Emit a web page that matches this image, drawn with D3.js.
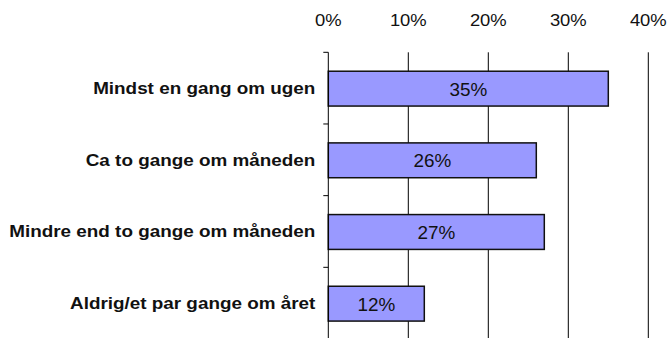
<!DOCTYPE html>
<html>
<head>
<meta charset="utf-8">
<script src="https://cdn.jsdelivr.net/npm/d3@7"></script>
<style>
  html, body { margin: 0; padding: 0; background: #fff; }
  svg { display: block; font-family: "Liberation Sans", Arial, Helvetica, sans-serif; }
</style>
</head>
<body>
<svg id="chart" width="669" height="338"></svg>
<script>
// Survey answers: how often respondents do it
const categories = [
  "Mindst en gang om ugen",
  "Ca to gange om måneden",
  "Mindre end to gange om måneden",
  "Aldrig/et par gange om året"
];
const values = [35, 26, 27, 12];
const tickValues = [0, 10, 20, 30, 40];
const tickLabels = ["0%", "10%", "20%", "30%", "40%"];

const svg = d3.select("#chart");
const plotLeft = 328.3, plotRight = 648.3, plotTop = 52.3, plotBottom = 339;
const tickStretch = 1.15;  // labels are set slightly wide
const labelStretch = 1.18;

const x = d3.scaleLinear().domain([0, 40]).range([plotLeft, plotRight]);
const y = d3.scaleBand().domain(categories).range([plotTop, plotBottom])
  .paddingInner(0.5).paddingOuter(0.25);

// vertical gridlines
svg.append("g").selectAll("line").data(tickValues.slice(1)).join("line")
  .attr("x1", d => x(d)).attr("x2", d => x(d))
  .attr("y1", plotTop).attr("y2", 338)
  .attr("stroke", "#000").attr("stroke-width", 1);

// top axis labels
svg.append("g").selectAll("text").data(tickValues).join("text")
  .attr("transform", d => `translate(${x(d)},26) scale(${tickStretch},1)`)
  .attr("text-anchor", "middle")
  .attr("font-size", 16)
  .attr("fill", "#111")
  .text((d, i) => tickLabels[i]);

// bars
svg.append("g").selectAll("rect").data(values).join("rect")
  .attr("x", x(0))
  .attr("y", (d, i) => y(categories[i]) + 1)
  .attr("width", d => x(d) - x(0))
  .attr("height", y.bandwidth() - 1)
  .attr("fill", "#9999ff")
  .attr("stroke", "#111")
  .attr("stroke-width", 1.5);

// value labels inside bars
svg.append("g").selectAll("text").data(values).join("text")
  .attr("transform", (d, i) =>
    `translate(${(x(0) + x(d)) / 2},${y(categories[i]) + 1 + y.bandwidth() / 2}) scale(1.05,1)`)
  .attr("dy", "0.36em")
  .attr("text-anchor", "middle")
  .attr("font-size", 18)
  .attr("fill", "#111")
  .text(d => d + "%");

// left axis line and category separators
const yAxis = svg.append("g");
yAxis.append("line")
  .attr("x1", x(0)).attr("x2", x(0))
  .attr("y1", plotTop).attr("y2", 338)
  .attr("stroke", "#000").attr("stroke-width", 1);
const bounds = categories.map(c => y(c) - y.step() * y.paddingInner() / 2);
yAxis.selectAll("line.sep").data(bounds).join("line")
  .attr("class", "sep")
  .attr("x1", x(0) - 5).attr("x2", x(0))
  .attr("y1", d => d).attr("y2", d => d)
  .attr("stroke", "#000").attr("stroke-width", 1);

// category labels
yAxis.selectAll("text").data(categories).join("text")
  .attr("transform", d => `translate(${x(0) - 13},${y(d) + y.bandwidth() / 2}) scale(${labelStretch},1)`)
  .attr("dy", "0.36em")
  .attr("text-anchor", "end")
  .attr("font-size", 16)
  .attr("font-weight", "bold")
  .attr("fill", "#111")
  .text(d => d);
</script>
</body>
</html>
